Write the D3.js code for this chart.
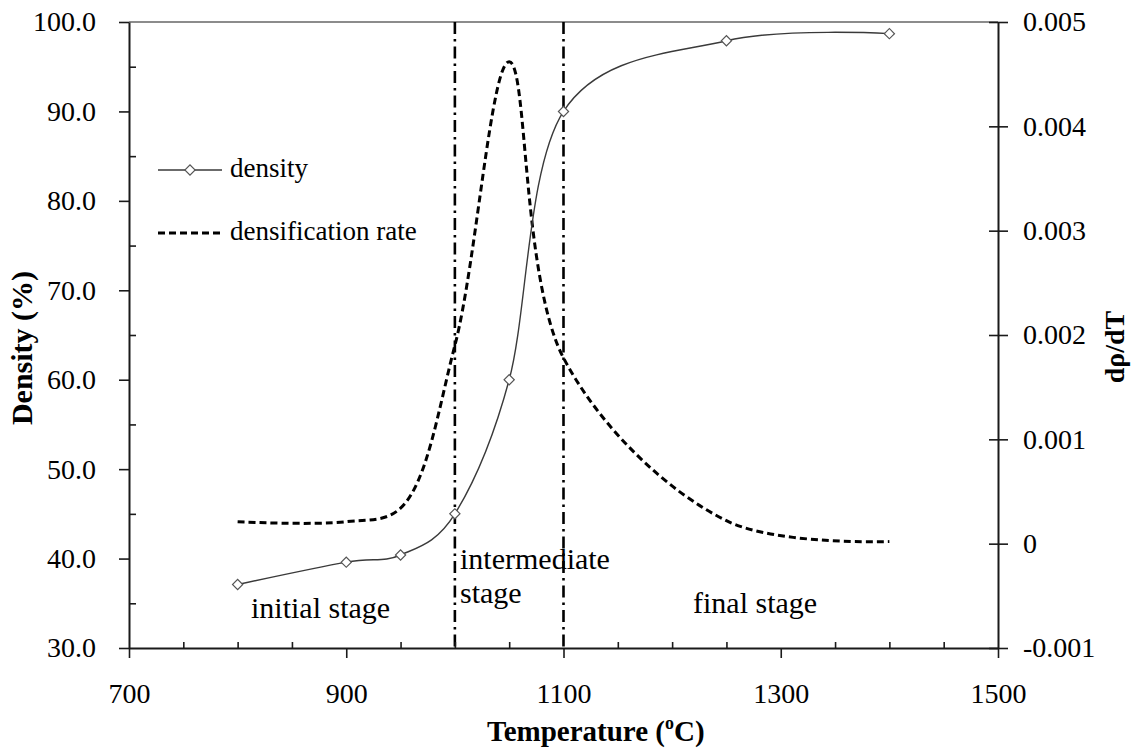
<!DOCTYPE html>
<html>
<head>
<meta charset="utf-8">
<script src="https://cdn.jsdelivr.net/npm/d3@7/dist/d3.min.js"></script>
<style>
  html, body { margin: 0; padding: 0; background: #fff; }
  svg { display: block; }
</style>
</head>
<body>
<svg id="chart" width="1136" height="749"></svg>
<script>
// Sintering temperatures (°C)
const temperatures = [800, 900, 950, 1000, 1050, 1100, 1250, 1400];
// Relative density (%)
const density = [37.1, 39.6, 40.4, 45.0, 60.0, 90.0, 97.9, 98.7];
// Densification rate dρ/dT
const densificationRate = [0.00021, 0.00021, 0.00034, 0.0019, 0.00462, 0.00178, 0.00022, 0.00002];
// Stage boundaries (°C)
const stageBounds = [1000, 1100];
// Axis ticks
const xMajorTicks = [700, 900, 1100, 1300, 1500];
const xMinorTicks = [750, 800, 850, 950, 1000, 1050, 1150, 1200, 1250, 1350, 1400, 1450];
const yLeftTicks = [30, 40, 50, 60, 70, 80, 90, 100];
const yLeftMinor = [35, 45, 55, 65, 75, 85, 95];
const yRightTicks = [-0.001, 0, 0.001, 0.002, 0.003, 0.004, 0.005];
const legendLabels = ["density", "densification rate"];
const stageLabels = [["initial stage"], ["intermediate", "stage"], ["final stage"]];

const FONT = "'Liberation Serif', 'Times New Roman', serif";
const svg = d3.select("#chart");
const L = 129, R = 998, T = 22, B = 648;

const x = d3.scaleLinear().domain([700, 1500]).range([L, R]);
const yL = d3.scaleLinear().domain([30, 100]).range([B, T]);
const yR = d3.scaleLinear().domain([-0.001, 0.005]).range([B, T]);

// plot frame top edge
svg.append("line").attr("x1", L).attr("x2", R).attr("y1", T).attr("y2", T)
  .attr("stroke", "#8c8c8c").attr("stroke-width", 2);

// stage boundary lines
svg.append("g").selectAll("line").data(stageBounds).join("line")
  .attr("x1", d => x(d)).attr("x2", d => x(d))
  .attr("y1", T).attr("y2", B)
  .attr("stroke", "#000").attr("stroke-width", 2.6)
  .attr("stroke-dasharray", "12,5,2.5,5");

// bottom axis: major ticks outward, minor inward
const xAxisG = svg.append("g").attr("transform", `translate(0,${B})`);
xAxisG.call(d3.axisBottom(x).tickValues(xMajorTicks).tickSizeInner(10).tickSizeOuter(0)
  .tickPadding(25).tickFormat(d3.format("d")));
const xMinorG = svg.append("g").attr("transform", `translate(0,${B})`);
xMinorG.call(d3.axisBottom(x).tickValues(xMinorTicks).tickSizeInner(-6).tickSizeOuter(0).tickFormat(""));
xMinorG.select(".domain").remove();

// left axis
const yLG = svg.append("g").attr("transform", `translate(${L},0)`);
yLG.call(d3.axisLeft(yL).tickValues(yLeftTicks).tickSizeInner(10).tickSizeOuter(0)
  .tickPadding(23).tickFormat(d3.format(".1f")));
const yLMinorG = svg.append("g").attr("transform", `translate(${L},0)`);
yLMinorG.call(d3.axisLeft(yL).tickValues(yLeftMinor).tickSizeInner(-7).tickSizeOuter(0).tickFormat(""));
yLMinorG.select(".domain").remove();

// right axis with crossing ticks
const fmtRate = d => d === 0 ? "0" : (d < 0 ? "-" : "") + d3.format(".3f")(Math.abs(d));
const yRG = svg.append("g").attr("transform", `translate(${R},0)`);
yRG.call(d3.axisRight(yR).tickValues(yRightTicks).tickSizeInner(10).tickSizeOuter(0)
  .tickPadding(15).tickFormat(fmtRate));
yRG.selectAll(".tick line").attr("x1", -9);

[xAxisG, xMinorG, yLG, yLMinorG, yRG].forEach(g => {
  g.selectAll(".domain").attr("stroke", "#1a1a1a").attr("stroke-width", 2);
  g.selectAll(".tick line").attr("stroke", "#1a1a1a").attr("stroke-width", 1.6);
  g.selectAll(".tick text").style("font-family", FONT)
    .attr("font-size", 28).attr("fill", "#000");
});

// densification rate (dashed, smoothed)
const rateLine = d3.line()
  .x((d, i) => x(temperatures[i]))
  .y(d => yR(d))
  .curve(d3.curveCatmullRom.alpha(0.5));
svg.append("path").datum(densificationRate)
  .attr("d", rateLine)
  .attr("fill", "none").attr("stroke", "#000").attr("stroke-width", 3)
  .attr("stroke-dasharray", "7,4");

// density (solid, smoothed, diamond markers)
const densLine = d3.line()
  .x((d, i) => x(temperatures[i]))
  .y(d => yL(d))
  .curve(d3.curveCardinal.tension(0));
svg.append("path").datum(density)
  .attr("d", densLine)
  .attr("fill", "none").attr("stroke", "#3a3a3a").attr("stroke-width", 1.4);

const diamond = d3.symbol().type(d3.symbolSquare).size(52);
svg.append("g").selectAll("path").data(density).join("path")
  .attr("d", diamond)
  .attr("transform", (d, i) => `translate(${x(temperatures[i])},${yL(d)}) rotate(45)`)
  .attr("fill", "#fff").attr("stroke", "#555").attr("stroke-width", 1.2);

// legend
const lg = svg.append("g");
lg.append("line").attr("x1", 158).attr("x2", 222).attr("y1", 170).attr("y2", 170)
  .attr("stroke", "#3a3a3a").attr("stroke-width", 1.4);
lg.append("path").attr("d", diamond).attr("transform", "translate(190,170) rotate(45)")
  .attr("fill", "#fff").attr("stroke", "#555").attr("stroke-width", 1.2);
lg.append("line").attr("x1", 158).attr("x2", 222).attr("y1", 233).attr("y2", 233)
  .attr("stroke", "#000").attr("stroke-width", 3).attr("stroke-dasharray", "7,4");
lg.selectAll("text").data(legendLabels).join("text")
  .attr("x", 230).attr("y", (d, i) => i === 0 ? 177 : 240)
  .style("font-family", FONT).attr("font-size", 27).text(d => d);

// stage annotations
const stageX = [251, 460, 693];
const stageY = [618, 569, 613];
stageLabels.forEach((lines, i) => {
  const t = svg.append("text").attr("x", stageX[i]).attr("y", stageY[i])
    .style("font-family", FONT).attr("font-size", 30);
  lines.forEach((ln, j) => {
    t.append("tspan").attr("x", stageX[i]).attr("dy", j === 0 ? 0 : 34).text(ln);
  });
});

// axis titles
const xt = svg.append("text").attr("x", 487).attr("y", 741)
  .attr("text-anchor", "start").style("font-family", FONT)
  .attr("font-size", 29).attr("font-weight", "bold");
xt.append("tspan").text("Temperature (");
xt.append("tspan").attr("font-size", 18).attr("dy", -12).text("o");
xt.append("tspan").attr("dy", 12).text("C)");

svg.append("text")
  .attr("transform", "translate(32,348) rotate(-90)")
  .attr("text-anchor", "middle").style("font-family", FONT)
  .attr("font-size", 30).attr("font-weight", "bold")
  .text("Density (%)");

svg.append("text")
  .attr("transform", "translate(1124,347) rotate(-90)")
  .attr("text-anchor", "middle").style("font-family", FONT)
  .attr("font-size", 28).attr("font-weight", "bold")
  .text("dρ/dT");
</script>
</body>
</html>
